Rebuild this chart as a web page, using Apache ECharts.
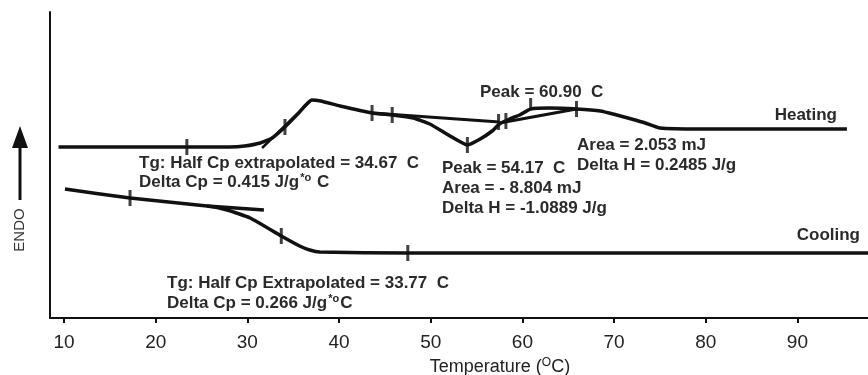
<!DOCTYPE html>
<html>
<head>
<meta charset="utf-8">
<script src="https://cdn.jsdelivr.net/npm/echarts@6/dist/echarts.min.js"></script>
<style>
html,body{margin:0;padding:0;background:#fff;}
#main{width:868px;height:375px;}
</style>
</head>
<body>
<div id="main"></div>
<script>
// DSC trace, x = temperature (C), y = heat flow (arbitrary units, endo up)
var heatT = [9.4, 28.1, 29.7, 31.4, 32.7, 34.1, 35.5, 37.0, 38.0, 40.1, 43.6, 45.8, 48.1, 49.9, 52.1, 54.0, 55.4, 56.7, 57.5, 58.6, 59.7, 60.9, 63.0, 65.9, 68.5, 70.3, 71.9, 73.4, 75.0, 79.4, 95.4];
var heatY = [171, 171, 172, 175, 180, 191, 204, 218, 217, 212, 205, 203, 200, 194, 182, 173, 179, 187, 194, 199, 203, 209, 210, 209, 207, 203, 199, 195, 190, 189, 189];
var coolT = [10.1, 17.2, 25.6, 27.8, 30.3, 33.7, 35.7, 36.8, 37.9, 47.5, 97.7];
var coolY = [129, 120, 112, 108, 100, 82, 72, 68, 66, 65, 65];

// construction lines (tangents / integration baselines)
var heatTgT = [31.6, 37.0],  heatTgY = [170, 218];
var dipBaseT = [43.6, 57.5], dipBaseY = [205, 196];
var bumpBaseT = [57.5, 65.9], bumpBaseY = [195, 209];
var coolTgT = [25.6, 31.8],  coolTgY = [112, 108];

// little vertical markers on the curves
var markT = [23.4, 34.1, 43.6, 45.8, 54.0, 57.4, 58.2, 65.9, 17.2, 33.7, 47.5];
var markY = [171, 191, 205, 203, 173, 196, 197, 209, 120, 82, 65];
var peakMarkT = [60.9], peakMarkY = [209];

var xTicks = [10, 20, 30, 40, 50, 60, 70, 80, 90];

var notes = [
  'Tg: Half Cp extrapolated = 34.67  C',
  '{n|Delta Cp = 0.415 J/g}{s|*o}{n| C}',
  'Peak = 54.17  C',
  'Area = - 8.804 mJ',
  'Delta H = -1.0889 J/g',
  'Peak = 60.90  C',
  'Area = 2.053 mJ',
  'Delta H = 0.2485 J/g',
  'Tg: Half Cp Extrapolated = 33.77  C',
  '{n|Delta Cp = 0.266 J/g}{s|*o}{n|C}',
  'Heating',
  'Cooling'
];

function zip(a, b){
  var out = [];
  for (var i = 0; i < a.length; i++) out.push([a[i], b[i]]);
  return out;
}

var FONT = '"Liberation Sans", Arial, sans-serif';
var INK = '#111';

function lineSerie(name, xs, ys, w){
  return {
    name: name, type: 'line', data: zip(xs, ys),
    showSymbol: false, symbol: 'none', smooth: 0.15,
    lineStyle: {color: INK, width: w || 3.5},
    silent: true, z: 3
  };
}

function note(i, x, y, align){
  return {
    type: 'text', x: x, y: y, z: 10,
    style: {
      text: notes[i].indexOf('{n|') === 0 ? notes[i] : '{n|' + notes[i] + '}',
      align: align || 'left', verticalAlign: 'middle',
      rich: {
        n: {fontFamily: FONT, fontWeight: 'bold', fontSize: 17, fill: '#2a2a2a'},
        s: {fontFamily: FONT, fontWeight: 'bold', fontSize: 11, fill: '#2a2a2a', verticalAlign: 'top', padding: [0, 1, 8, 1]}
      }
    }
  };
}

var chart = echarts.init(document.getElementById('main'));
chart.setOption({
  animation: false,
  backgroundColor: '#fff',
  grid: {left: 50, right: 0, top: 12, bottom: 57, outerBoundsMode: 'none', containLabel: false},
  xAxis: {
    type: 'value', min: 8.47, max: 97.7,
    axisLine: {show: true, onZero: false, lineStyle: {color: INK, width: 2}},
    axisTick: {show: true, customValues: xTicks, length: 5, lineStyle: {color: INK, width: 2}},
    axisLabel: {customValues: xTicks, fontSize: 19, color: '#222', margin: 15, fontFamily: FONT},
    splitLine: {show: false},
    name: '{a|Temperature (}{b|O}{a|C)}',
    nameLocation: 'middle', nameGap: 38,
    nameTextStyle: {
      padding: [0, 0, 0, 82],
      rich: {
        a: {fontSize: 18, color: '#222', fontFamily: FONT},
        b: {fontSize: 12, color: '#222', fontFamily: FONT, verticalAlign: 'top', padding: [0, 0, 8, 0]}
      }
    }
  },
  yAxis: {
    type: 'value', min: 0, max: 306,
    axisLine: {show: true, lineStyle: {color: INK, width: 2}},
    axisTick: {show: false}, axisLabel: {show: false}, splitLine: {show: false}
  },
  series: [
    lineSerie('Heating', heatT, heatY),
    lineSerie('Cooling', coolT, coolY),
    lineSerie('heat tangent', heatTgT, heatTgY, 2.5),
    lineSerie('dip baseline', dipBaseT, dipBaseY, 3),
    lineSerie('bump baseline', bumpBaseT, bumpBaseY, 3),
    lineSerie('cool tangent', coolTgT, coolTgY, 3.5),
    {
      name: 'marks', type: 'scatter', data: zip(markT, markY),
      symbol: 'rect', symbolSize: [3, 16], itemStyle: {color: INK}, silent: true, z: 4
    },
    {
      name: 'peak mark', type: 'scatter', data: zip(peakMarkT, peakMarkY),
      symbol: 'rect', symbolSize: [3, 12], symbolOffset: [0, -5], itemStyle: {color: INK}, silent: true, z: 4
    }
  ],
  graphic: [
    note(0, 139, 163), note(1, 139, 182),
    note(2, 442, 168), note(3, 442, 188), note(4, 442, 208),
    note(5, 480, 92),
    note(6, 577, 145), note(7, 577, 165),
    note(8, 167, 283), note(9, 167, 303),
    note(10, 837, 115, 'right'), note(11, 860, 235, 'right'),
    // ENDO direction arrow
    {type: 'line', shape: {x1: 20, y1: 200, x2: 20, y2: 140}, style: {stroke: INK, lineWidth: 3}},
    {type: 'polygon', shape: {points: [[12, 148], [28, 148], [20, 126]]}, style: {fill: INK}},
    {
      type: 'text', x: 20, y: 230, rotation: Math.PI / 2,
      style: {text: 'ENDO', fontSize: 15, fontFamily: FONT, fill: '#333', align: 'center', verticalAlign: 'middle'}
    }
  ]
});
</script>
</body>
</html>
